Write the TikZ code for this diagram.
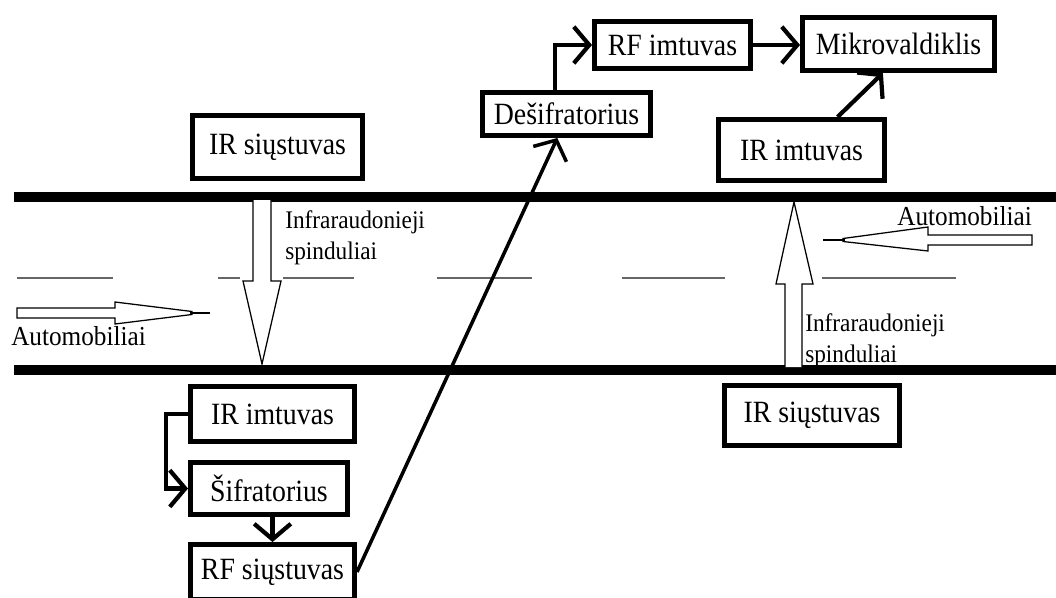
\documentclass[tikz,border=0pt]{standalone}
\usepackage{fontspec}
\setmainfont{Liberation Serif}
\newfontfamily\blokfont[FakeStretch=0.9]{Liberation Serif}
\newfontfamily\mazfont[FakeStretch=0.92]{Liberation Serif}
\usetikzlibrary{arrows,arrows.meta}

\begin{document}
\begin{tikzpicture}[x=0.025cm,y=-0.025cm,
  blokas/.style={draw,line width=3.5pt,inner sep=0pt,font=\blokfont\fontsize{22}{24}\selectfont},
  jungtis/.style={line width=3pt,-{Straight Barb[length=11pt,width=26pt]}},
  kelias/.style={line width=7pt},
  juosta/.style={line width=1.1pt,black!60},
  spindulys/.style={line width=0.9pt,fill=white,line join=miter},
  uzrasas/.style={inner sep=0pt,font=\mazfont\fontsize{18}{22}\selectfont,align=left}]
\clip (0,0) rectangle (1056,597);
% kelias ir juostos
\draw[kelias](14,197)--(1056,197)(14,370)--(1056,370);
\foreach \a/\b in {17/113,218/240,283/354,437/532,622/725,822/956}
  \draw[juosta](\a,278)--(\b,278);
% spinduliai
\draw[spindulys](253,200)--(253,281)--(243,281)--(262,364)--(281,281)--(271,281)--(271,200);
\draw[spindulys](785,367)--(785,284)--(776,284)--(794,202)--(813,284)--(802,284)--(802,367);
% automobiliai
\draw[spindulys](17,308)--(115,308)--(115,302)--(192,311.5)--(192,314.5)--(115,324)--(115,318)--(17,318)--cycle;
\draw[line width=2pt](190,313)--(210,313);
\draw[spindulys](1032,235)--(928,235)--(928,227)--(843,238.5)--(843,241.5)--(928,251)--(928,245)--(1032,245)--cycle;
\draw[line width=2pt](845,240)--(823,240);
% blokai
\node[blokas,minimum width=4.25cm,minimum height=1.575cm] (irs1) at (277.5,147) {IR siųstuvas};
\node[blokas,minimum width=4.1cm,minimum height=1.375cm] (irim1) at (272.5,414) {IR imtuvas};
\node[blokas,minimum width=3.925cm,minimum height=1.3cm] (sif) at (269,488.5) {Šifratorius};
\node[blokas,minimum width=4.1cm,minimum height=1.375cm] (rfs) at (272.5,572) {RF siųstuvas};
\node[blokas,minimum width=4.2cm,minimum height=1.075cm] (des) at (566.5,114) {Dešifratorius};
\node[blokas,minimum width=3.9cm,minimum height=1.175cm] (rfi) at (672.5,45) {RF imtuvas};
\node[blokas,minimum width=4.8cm,minimum height=1.325cm] (mik) at (898.5,44) {Mikrovaldiklis};
\node[blokas,minimum width=4.15cm,minimum height=1.525cm] (irim2) at (801.5,150) {IR imtuvas};
\node[blokas,minimum width=4.375cm,minimum height=1.5cm] (irs2) at (812,415.5) {IR siųstuvas};
% uzrasai
\node[uzrasas,anchor=north west] (sp1) at (285,210) {Infraraudonieji\\spinduliai};
\node[uzrasas,anchor=north west] (sp2) at (805,313) {Infraraudonieji\\spinduliai};
\node[inner sep=0pt,anchor=base west,font=\mazfont\fontsize{19.5}{22}\selectfont] (aut1) at (11,345) {Automobiliai};
\node[inner sep=0pt,anchor=base west,font=\mazfont\fontsize{19.5}{22}\selectfont] (aut2) at (897,225) {Automobiliai};
% jungtys
\draw[jungtis](irim1.west)--++(-22,0)|-(sif.west);
\draw[jungtis](rfs.north|-sif.south)--(rfs.north);
\draw[jungtis,line width=2.5pt](rfs.east)--([xshift=-0.23cm]des.south);
\draw[jungtis]([xshift=-0.29cm]des.north)|-(rfi.west);
\draw[jungtis](rfi.east)--(rfi.east-|mik.west);
\draw[jungtis]([xshift=0.9cm]irim2.north)--([xshift=-0.39cm]mik.south);
\end{tikzpicture}
\end{document}
